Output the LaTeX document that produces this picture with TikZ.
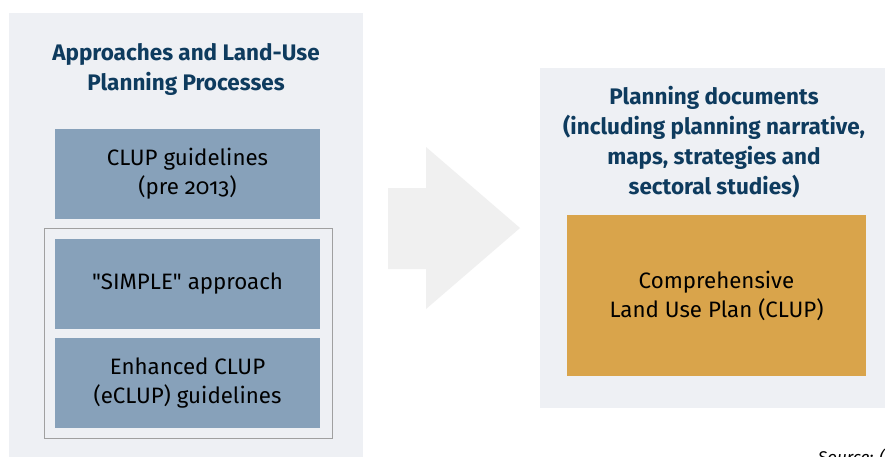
\documentclass[tikz,border=0pt]{standalone}
\usepackage{fontspec}
\setmainfont{Fira Sans}[Ligatures=TeXOff]
\definecolor{panelbg}{HTML}{EEF0F4}
\definecolor{boxblue}{HTML}{87A1BA}
\definecolor{boxorange}{HTML}{D9A44B}
\definecolor{titleblue}{HTML}{0E3B5E}
\definecolor{arrowgray}{HTML}{F0F0F0}
\definecolor{groupline}{HTML}{A0A0A0}
\tikzset{
  panel/.style={fill=panelbg, draw=none},
  bluebox/.style={fill=boxblue, draw=none, minimum width=265pt, minimum height=90pt, inner sep=0pt, align=center, font=\fontsize{22.3}{29}\selectfont, text=black},
  headtext/.style={align=center, text=titleblue, font=\fontsize{22.5}{30}\selectfont\bfseries, inner sep=0pt},
}
\begin{document}
\begin{tikzpicture}[x=1pt,y=-1pt]
\useasboundingbox (0,0) rectangle (885,456);
\fill[white] (0,0) rectangle (885,456);
% panels
\fill[panel] (9,13) rectangle (363,460);
\fill[panel] (540,68) rectangle (885,408);
% arrow
\fill[arrowgray] (388,188) -- (426,188) -- (426,147) -- (520,228) -- (426,309) -- (426,269) -- (388,269) -- cycle;
% left title
\node[headtext] (lt) at (186,69) {Approaches and Land-Use\\Planning Processes};
% boxes
\node[bluebox] (clup) at (187.5,174) {CLUP guidelines\\(pre {\addfontfeatures{Numbers=OldStyle}2013})};
\node[draw=groupline, line width=0.8pt, minimum width=288pt, minimum height=210pt, inner sep=0pt] (grp) at (188,333) {};
\node[bluebox] (simple) at (187.5,284) {"SIMPLE" approach};
\node[bluebox] (eclup) at (187.5,383) {Enhanced CLUP\\(eCLUP) guidelines};
% right title
\node[headtext] (rt) at (714,142) {Planning documents\\(including planning narrative,\\maps, strategies and\\sectoral studies)};
\node[fill=boxorange, minimum width=299pt, minimum height=161pt, inner sep=0pt, align=center, font=\fontsize{22.3}{29}\selectfont] (plan) at (716.5,295.5) {Comprehensive\\Land Use Plan (CLUP)};
% source
\node[anchor=base west, inner sep=0pt, font=\fontsize{17}{20}\selectfont\itshape] (src) at (818,463) {Source: (};
\end{tikzpicture}
\end{document}
